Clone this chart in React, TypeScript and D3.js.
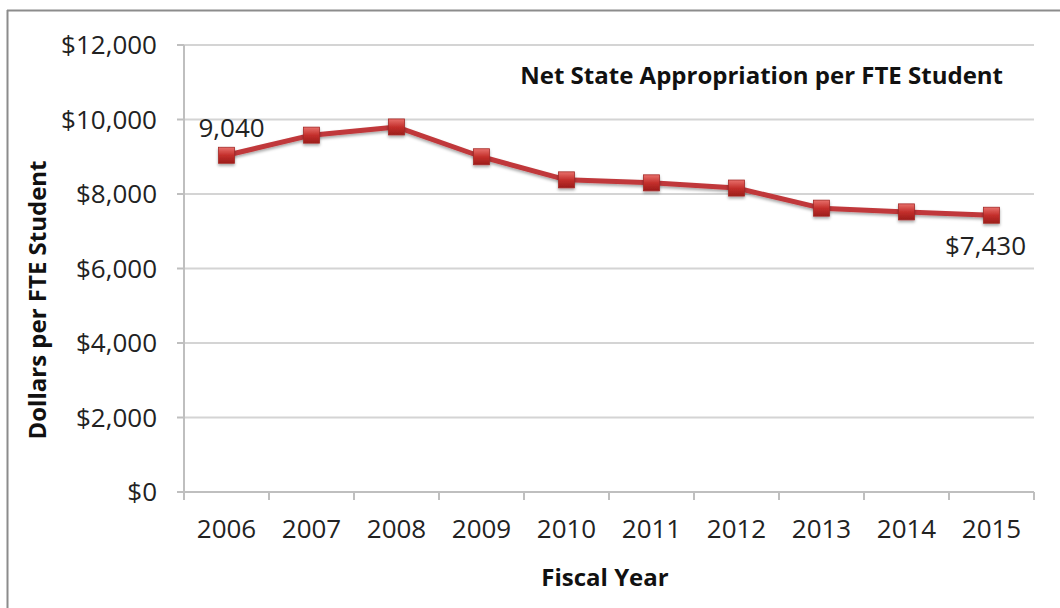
import React from "react";
import * as d3 from "d3";

const years = ["2006", "2007", "2008", "2009", "2010", "2011", "2012", "2013", "2014", "2015"];
const values = [9040, 9580, 9800, 9000, 8380, 8300, 8160, 7620, 7520, 7430];
const yTicks = [0, 2000, 4000, 6000, 8000, 10000, 12000];
const title = "Net State Appropriation per FTE Student";
const yTitle = "Dollars per FTE Student";
const xTitle = "Fiscal Year";
const labels = [
  { index: 0, text: "9,040", dx: -28, dy: -18, anchor: "start" },
  { index: 9, text: "$7,430", dx: -6, dy: 40, anchor: "middle" },
];

const W = 1060;
const H = 608;
const FONT = "'Open Sans', Lato, sans-serif";

export default function App() {
  const left = 184;
  const right = 1034;
  const top = 45;
  const bottom = 492;
  const x = d3.scaleBand<string>().domain(years).range([left, right]);
  const y = d3.scaleLinear().domain([0, 12000]).range([bottom, top]);
  const cx = (i: number) => (x(years[i]) as number) + x.bandwidth() / 2;
  const line = d3
    .line<number>()
    .x((_, i) => cx(i))
    .y((d) => y(d));
  const fmt = d3.format("$,");
  const boundaries = years.map((yr) => x(yr) as number).concat([right]);

  return (
    <svg
      width={W}
      height={H}
      style={{ position: "absolute", left: 0, top: 0, background: "#fff" }}
      fontFamily={FONT}
    >
      <defs>
        <linearGradient id="mk" x1="0" y1="0" x2="0" y2="1">
          <stop offset="0" stopColor="#e8706c" />
          <stop offset="0.5" stopColor="#c4302c" />
          <stop offset="1" stopColor="#9c1c1a" />
        </linearGradient>
        <filter id="sh" x="-50%" y="-50%" width="200%" height="200%">
          <feDropShadow dx="0" dy="2" stdDeviation="1.5" floodColor="#000" floodOpacity="0.35" />
        </filter>
      </defs>
      {/* frame */}
      <line x1={7.5} y1={10} x2={7.5} y2={H} stroke="#8c8c8c" strokeWidth={2} />
      <line x1={7} y1={10.5} x2={W} y2={10.5} stroke="#8c8c8c" strokeWidth={2} />

      {/* gridlines */}
      {yTicks.map((t) => (
        <g key={t}>
          {t > 0 && (
            <line x1={left} x2={right} y1={y(t)} y2={y(t)} stroke="#d4d4d4" strokeWidth={2} />
          )}
          <line x1={left - 7} x2={left} y1={y(t)} y2={y(t)} stroke="#bfbfbf" strokeWidth={2} />
          <text
            x={157}
            y={y(t)}
            dy="0.35em"
            textAnchor="end"
            fontSize={26}
            fill="#222"
          >
            {fmt(t)}
          </text>
        </g>
      ))}
      {/* axes */}
      <line x1={left} x2={left} y1={top} y2={bottom} stroke="#bfbfbf" strokeWidth={2} />
      <line x1={left - 7} x2={right} y1={bottom} y2={bottom} stroke="#bfbfbf" strokeWidth={2} />
      {boundaries.map((b, i) => (
        <line key={i} x1={b} x2={b} y1={bottom} y2={bottom + 8} stroke="#bfbfbf" strokeWidth={2} />
      ))}
      {years.map((yr, i) => (
        <text key={yr} x={cx(i)} y={529} dy="0.35em" textAnchor="middle" fontSize={26} fill="#222">
          {yr}
        </text>
      ))}

      {/* series */}
      <path d={line(values) || ""} fill="none" stroke="#c0393b" strokeWidth={5} strokeLinejoin="round" filter="url(#sh)" />
      {values.map((v, i) => (
        <rect
          key={i}
          x={cx(i) - 8}
          y={y(v) - 8}
          width={16}
          height={16}
          fill="url(#mk)"
          stroke="#a52a27"
          strokeWidth={0.8}
          filter="url(#sh)"
        />
      ))}

      {/* data labels */}
      {labels.map((l) => (
        <text
          key={l.index}
          x={cx(l.index) + l.dx}
          y={y(values[l.index]) + l.dy}
          textAnchor={l.anchor as any}
          fontSize={26}
          fill="#222"
        >
          {l.text}
        </text>
      ))}

      {/* titles */}
      <text x={1003} y={76} dy="0.35em" textAnchor="end" fontSize={24} fontWeight="bold" fill="#111">
        {title}
      </text>
      <text
        transform={`translate(38, 300) rotate(-90)`}
        textAnchor="middle"
        dy="0.35em"
        fontSize={24}
        fontWeight="bold"
        fill="#111"
      >
        {yTitle}
      </text>
      <text x={605} y={578} dy="0.35em" textAnchor="middle" fontSize={24} fontWeight="bold" fill="#111">
        {xTitle}
      </text>
    </svg>
  );
}
